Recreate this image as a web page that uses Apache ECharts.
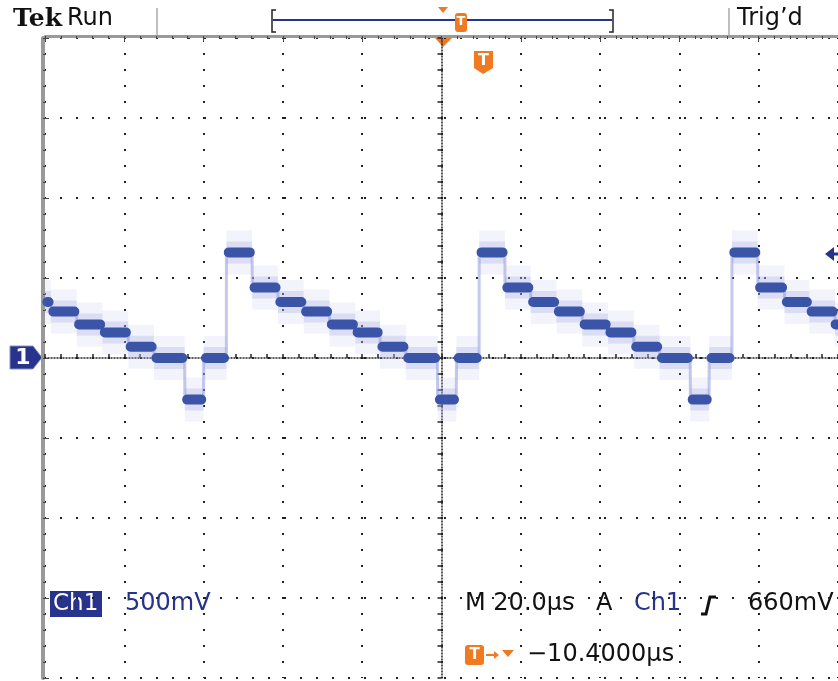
<!DOCTYPE html>
<html>
<head>
<meta charset="utf-8">
<script src="https://cdn.jsdelivr.net/npm/echarts@6/dist/echarts.min.js"></script>
<style>
  html, body { margin: 0; padding: 0; background: #fff; }
  #main { width: 838px; height: 681px; }
</style>
</head>
<body>
<div id="main"></div>
<script>
// time (µs) where each flat step of the trace begins / ends
var edgeTimes = [-100, -98.5, -92, -85.5, -79, -72.5, -64.75, -60,
    -54.25, -47.75, -41.25, -34.75, -28.25, -21.75, -15.5, -9, -1, 3.75,
    9.5, 16, 22.5, 29, 35.5, 42, 48.5, 55, 62.75, 67.5,
    73.25, 79.75, 86.5, 92.75, 99.25, 100];
// level (V) of each step, one per interval of edgeTimes
var stepLevels = [0.35, 0.29, 0.21, 0.16, 0.07, 0, -0.26, 0,
    0.66, 0.44, 0.35, 0.29, 0.21, 0.16, 0.07, 0, -0.26, 0,
    0.66, 0.44, 0.35, 0.29, 0.21, 0.16, 0.07, 0, -0.26, 0,
    0.66, 0.44, 0.35, 0.29, 0.21];

var traceColor = '#3a54a8';
var labelBlue = '#27338c';
var orange = '#f07a22';

// thin trace through all steps
var traceData = [];
for (var i = 0; i < stepLevels.length; i++) {
    traceData.push([edgeTimes[i], stepLevels[i]]);
}
traceData.push([edgeTimes[edgeTimes.length - 1], stepLevels[stepLevels.length - 1]]);

// flat pieces, broken between steps
function pieces(inset) {
    var out = [];
    for (var j = 0; j < stepLevels.length; j++) {
        out.push([edgeTimes[j] + inset, stepLevels[j]]);
        out.push([edgeTimes[j + 1] - inset, stepLevels[j]]);
        out.push([edgeTimes[j + 1], '-']);
    }
    return out;
}

var myChart = echarts.init(document.getElementById('main'));

var dots = { color: '#222', width: 2, type: [2, 14], dashOffset: 1 };

function stepSeries(name, inset, width, color, cap, z) {
    return {
        name: name, type: 'line', xAxisIndex: 0, yAxisIndex: 0,
        data: pieces(inset), showSymbol: false, connectNulls: false,
        lineStyle: { color: color, width: width, cap: cap },
        silent: true, z: z
    };
}

myChart.setOption({
    animation: false,
    backgroundColor: '#fff',
    grid: { left: 45, top: 38, width: 800, height: 640 },
    xAxis: [
        { // top border
            type: 'value', min: -100, max: 100, interval: 20, position: 'top', offset: 2,
            axisLine: { onZero: false, lineStyle: { color: '#999', width: 3 } },
            axisTick: { inside: true, length: 6, lineStyle: { color: '#444' } },
            minorTick: { show: true, splitNumber: 5, length: 3, lineStyle: { color: '#444' } },
            axisLabel: { show: false },
            splitLine: { show: true, lineStyle: dots }
        },
        { // centre horizontal line
            type: 'value', min: -100, max: 100, interval: 20, position: 'bottom',
            axisLine: { onZero: true, lineStyle: { color: '#222', width: 1.5, type: [1, 2] } },
            axisTick: { inside: true, length: 4, lineStyle: { color: '#222', width: 1.5 } },
            minorTick: { show: true, splitNumber: 5, length: 4, lineStyle: { color: '#222', width: 1.5 } },
            axisLabel: { show: false },
            splitLine: { show: false }
        }
    ],
    yAxis: [
        { // left border
            type: 'value', min: -2, max: 2, interval: 0.5, position: 'left', offset: 2,
            axisLine: { onZero: false, lineStyle: { color: '#999', width: 4 } },
            axisTick: { inside: true, length: 6, lineStyle: { color: '#444' } },
            minorTick: { show: true, splitNumber: 5, length: 3, lineStyle: { color: '#444' } },
            axisLabel: { show: false },
            splitLine: { show: true, lineStyle: dots }
        },
        { // centre vertical line
            type: 'value', min: -2, max: 2, interval: 0.5, position: 'right',
            axisLine: { onZero: true, lineStyle: { color: '#222', width: 1.5, type: [1, 2] } },
            axisTick: { inside: true, length: 4, lineStyle: { color: '#222', width: 1.5 } },
            minorTick: { show: true, splitNumber: 5, length: 4, lineStyle: { color: '#222', width: 1.5 } },
            axisLabel: { show: false },
            splitLine: { show: false }
        }
    ],
    series: [
        stepSeries('noise', 0, 44, 'rgba(190,192,235,0.18)', 'butt', 2),
        stepSeries('halo', 0, 22, 'rgba(165,170,228,0.3)', 'butt', 2),
        {
            name: 'trace', type: 'line', step: 'end', xAxisIndex: 0, yAxisIndex: 0,
            data: traceData, showSymbol: false, silent: true,
            lineStyle: { color: 'rgba(140,148,218,0.5)', width: 3 },
            z: 3
        },
        stepSeries('Ch1', 0.6, 10, traceColor, 'round', 4)
    ],
    graphic: [
        // header
        { type: 'text', x: 13, y: 19, style: { text: 'Tek', font: 'bold 25px "DejaVu Serif"', fill: '#111', textVerticalAlign: 'middle' } },
        { type: 'text', x: 67, y: 19, style: { text: 'Run', font: '24px "DejaVu Sans"', fill: '#111', textVerticalAlign: 'middle' } },
        { type: 'line', shape: { x1: 157, y1: 8, x2: 157, y2: 35 }, style: { stroke: '#aaa', lineWidth: 1.5 } },
        { type: 'line', shape: { x1: 729, y1: 8, x2: 729, y2: 35 }, style: { stroke: '#aaa', lineWidth: 1.5 } },
        { type: 'text', x: 737, y: 19, style: { text: 'Trig’d', font: '24px "DejaVu Sans"', fill: '#111', textVerticalAlign: 'middle' } },
        { type: 'line', shape: { x1: 273, y1: 20, x2: 612, y2: 20 }, style: { stroke: labelBlue, lineWidth: 2 } },
        { type: 'polyline', shape: { points: [[276, 10], [272, 10], [272, 32], [276, 32]] }, style: { stroke: '#222', lineWidth: 1.5, fill: null } },
        { type: 'polyline', shape: { points: [[609, 10], [613, 10], [613, 32], [609, 32]] }, style: { stroke: '#222', lineWidth: 1.5, fill: null } },
        { type: 'polygon', shape: { points: [[438, 7], [448, 7], [443, 13]] }, style: { fill: orange } },
        { type: 'rect', shape: { x: 455, y: 13, width: 12, height: 19, r: 3 }, style: { fill: orange } },
        { type: 'text', x: 461, y: 22, style: { text: 'T', font: 'bold 13px "DejaVu Sans"', fill: '#fff', textAlign: 'center', textVerticalAlign: 'middle' } },
        // trigger position marker under the top border
        { type: 'polygon', shape: { points: [[435, 38], [452, 38], [443, 47]] }, style: { fill: orange } },
        { type: 'polygon', shape: { points: [[474, 51], [493, 51], [493, 68], [483, 74], [474, 68]] }, style: { fill: orange } },
        { type: 'text', x: 483.5, y: 61, style: { text: 'T', font: 'bold 16px "DejaVu Sans"', fill: '#fff', textAlign: 'center', textVerticalAlign: 'middle' } },
        // ground marker of channel 1
        { type: 'polygon', shape: { points: [[10, 346], [33, 346], [42, 357.5], [33, 369], [10, 369]] }, style: { fill: labelBlue, stroke: '#8890c8', lineWidth: 1 } },
        { type: 'text', x: 23, y: 358, style: { text: '1', font: 'bold 22px "DejaVu Sans"', fill: '#fff', textAlign: 'center', textVerticalAlign: 'middle' } },
        // trigger level marker at the right edge
        { type: 'polygon', shape: { points: [[825, 254], [834, 247], [834, 261]] }, style: { fill: labelBlue } },
        { type: 'line', shape: { x1: 832, y1: 254, x2: 838, y2: 254 }, style: { stroke: labelBlue, lineWidth: 3 } },
        // readouts
        { type: 'rect', shape: { x: 50, y: 591, width: 52, height: 26 }, style: { fill: labelBlue } },
        { type: 'text', x: 53, y: 604, style: { text: 'Ch1', font: '23px "DejaVu Sans"', fill: '#fff', textVerticalAlign: 'middle' } },
        { type: 'text', x: 125, y: 604, style: { text: '500mV', font: '24px "DejaVu Sans"', fill: labelBlue, textVerticalAlign: 'middle' } },
        { type: 'text', x: 465, y: 604, style: { text: 'M 20.0µs', font: '24px "DejaVu Sans"', fill: '#111', textVerticalAlign: 'middle' } },
        { type: 'text', x: 596, y: 604, style: { text: 'A', font: '24px "DejaVu Sans"', fill: '#111', textVerticalAlign: 'middle' } },
        { type: 'text', x: 634, y: 604, style: { text: 'Ch1', font: '24px "DejaVu Sans"', fill: labelBlue, textVerticalAlign: 'middle' } },
        { type: 'polyline', shape: { points: [[701, 614], [706, 614], [710, 597], [716, 597]] }, style: { stroke: '#111', lineWidth: 3, fill: null } },
        { type: 'text', x: 748, y: 604, style: { text: '660mV', font: '24px "DejaVu Sans"', fill: '#111', textVerticalAlign: 'middle' } },
        { type: 'rect', shape: { x: 465, y: 645, width: 19, height: 20, r: 3 }, style: { fill: orange } },
        { type: 'text', x: 474.5, y: 655.5, style: { text: 'T', font: 'bold 15px "DejaVu Sans"', fill: '#fff', textAlign: 'center', textVerticalAlign: 'middle' } },
        { type: 'line', shape: { x1: 486, y1: 655, x2: 497, y2: 655 }, style: { stroke: orange, lineWidth: 2 } },
        { type: 'polygon', shape: { points: [[494, 651], [499, 655], [494, 659]] }, style: { fill: orange } },
        { type: 'polygon', shape: { points: [[502, 650], [514, 650], [508, 657]] }, style: { fill: orange } },
        { type: 'text', x: 527, y: 655, style: { text: '−10.4000µs', font: '24px "DejaVu Sans"', fill: '#111', textVerticalAlign: 'middle' } }
    ]
});
</script>
</body>
</html>
